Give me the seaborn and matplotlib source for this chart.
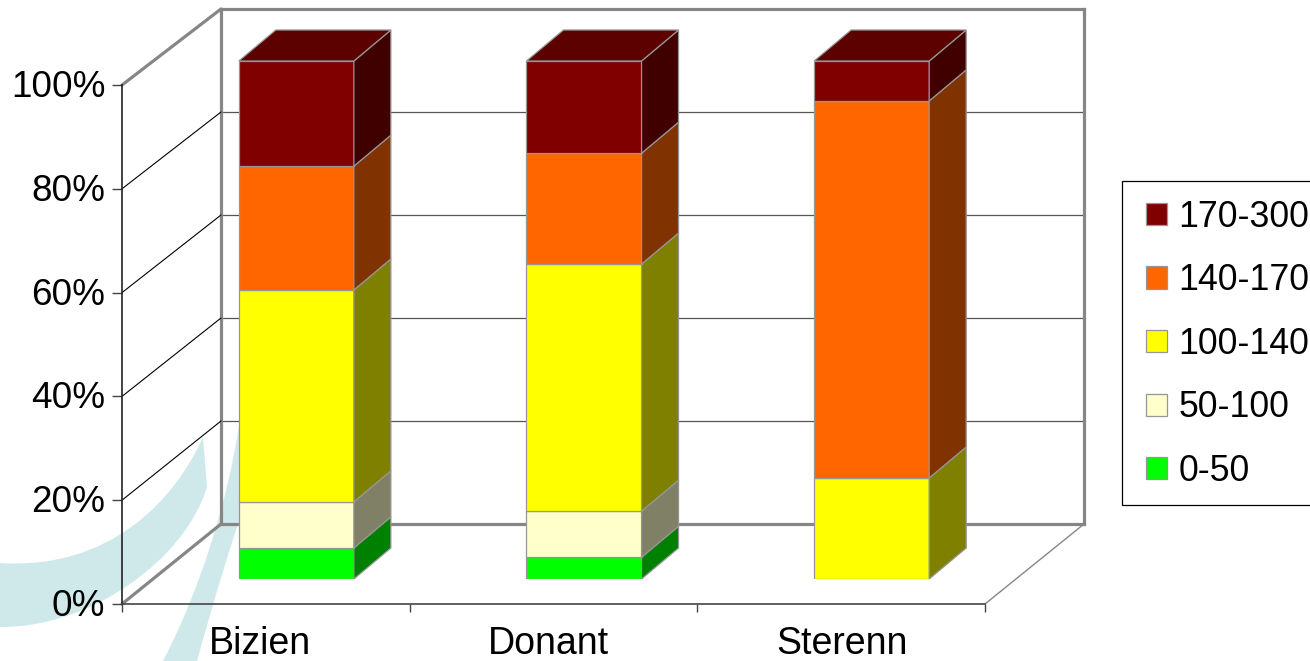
"""Stacked percent columns with an old spreadsheet 3D look."""

import matplotlib.pyplot as plt
import seaborn as sns
from matplotlib.patches import ConnectionPatch, Patch, PathPatch, Rectangle
from matplotlib.path import Path
from matplotlib.transforms import ScaledTranslation

W, H = 1310, 661

sites = ["Bizien", "Donant", "Sterenn"]
bands = ["0-50", "50-100", "100-140", "140-170", "170-300"]
band_0_50 = [6.0, 4.2, 0.0]
band_50_100 = [8.9, 8.9, 0.0]
band_100_140 = [40.9, 47.7, 19.5]
band_140_170 = [23.9, 21.4, 72.8]
band_170_300 = [20.3, 17.8, 7.7]
y_ticks = [0, 20, 40, 60, 80, 100]

front_colors = ["#00ff00", "#ffffcc", "#ffff00", "#ff6600", "#800000"]
side_colors = ["#008000", "#808066", "#808000", "#803300", "#400000"]
top_color = "#5c0000"
edge = "#969696"
wall = "#868686"
wash = "#cfe9eb"

sns.set_theme(style="white")
plt.rcParams["font.family"] = "Liberation Sans"


def px_axes(fig, left, top, right, bottom, z):
    ax = fig.add_axes([left / W, 1 - bottom / H, (right - left) / W, (bottom - top) / H])
    ax.set_zorder(z)
    ax.patch.set_visible(False)
    return ax


fig = plt.figure(figsize=(W / 100, H / 100), dpi=100)

# faint logo sitting behind the chart
bg = px_axes(fig, 0, 0, W, H, 0)
bg.set_xlim(0, W)
bg.set_ylim(H, 0)
bg.set_axis_off()
C4, L2 = Path.CURVE4, Path.LINETO
swoosh_a = Path(
    [(0, 563), (110, 570), (175, 500), (203, 437), (207, 487), (185, 560), (90, 628), (0, 627), (0, 563)],
    [Path.MOVETO, C4, C4, C4, L2, C4, C4, C4, Path.CLOSEPOLY],
)
swoosh_b = Path(
    [(163, 661), (200, 590), (228, 500), (239, 425), (246, 500), (222, 570), (197, 661), (163, 661)],
    [Path.MOVETO, C4, C4, C4, L2, Path.CURVE3, Path.CURVE3, Path.CLOSEPOLY],
)
bg.add_patch(PathPatch(swoosh_a, fc=wash, ec="none"))
bg.add_patch(PathPatch(swoosh_b, fc=wash, ec="none"))

# back wall
back = px_axes(fig, 221, 9, 1084, 524, 1)
back.set_xlim(-0.5, 2.5)
back.set_ylim(0, 100)
back.set_xticks([])
back.set_yticks(y_ticks)
back.tick_params(left=False, labelleft=False)
back.grid(axis="y", color="#555555", lw=0.9)
for s in back.spines.values():
    s.set_color(wall)
    s.set_linewidth(2.3)

# front plane carries the real axes
front = px_axes(fig, 122, 85, 985, 604, 2)
front.set_xlim(-0.5, 2.5)
front.set_ylim(0, 100)
front.set_yticks(y_ticks)
front.set_yticklabels([f"{t}%" for t in y_ticks], fontsize=26.6, color="black")
front.set_xticks([-0.5, 0.5, 1.5, 2.5])
front.set_xticklabels([])
front.set_xticks([-0.022, 0.981, 2.003], minor=True)
front.set_xticklabels(sites, minor=True, fontsize=27, color="black")
front.tick_params(axis="y", length=7, width=1, color="#444444", pad=5, left=True)
front.tick_params(axis="x", which="major", length=6, width=1, color="#444444", bottom=True)
front.tick_params(axis="x", which="minor", length=0, pad=16)
sns.despine(ax=front, top=True, right=True)
front.spines["left"].set_color("#222222")
front.spines["left"].set_linewidth(1.2)
front.spines["bottom"].set_color("#444444")
front.spines["bottom"].set_linewidth(1.2)
# percent labels sit a little above their ticks
for lab in front.get_yticklabels():
    lab.set_transform(lab.get_transform() + ScaledTranslation(0, 1.5 / 100, fig.dpi_scale_trans))

# side wall and floor edges between the two planes
for t in y_ticks:
    thick = t in (0, 100)
    fig.add_artist(
        ConnectionPatch(
            (-0.5, t), (-0.5, t), "data", "data", axesA=front, axesB=back,
            color=wall if thick else "black", lw=2.3 if thick else 0.8, zorder=1.5,
        )
    )
fig.add_artist(
    ConnectionPatch(
        (2.5, 0), (2.5, 0), "data", "data", axesA=front, axesB=back, color=wall, lw=1.0, zorder=1.5
    )
)

# columns
ax = px_axes(fig, 152.5, 61, 1015.5, 579, 3)
DX = 37 / (863 / 3)
DY = 31 / 5.18
HALF = 0.2
series = [band_0_50, band_50_100, band_100_140, band_140_170, band_170_300]
bottom = [0.0, 0.0, 0.0]
for vals, fc, sc in zip(series, front_colors, side_colors):
    shown = [(i, b, v) for i, (b, v) in enumerate(zip(bottom, vals)) if v > 0]
    sns.barplot(
        x=[sites[i] for i, _, _ in shown],
        y=[v for _, _, v in shown],
        bottom=[b for _, b, _ in shown],
        order=sites,
        color=fc,
        saturation=1,
        width=2 * HALF,
        edgecolor=edge,
        linewidth=0.9,
        ax=ax,
    )
    for i, b, v in shown:
        x = i + HALF
        ax.fill(
            [x, x + DX, x + DX, x],
            [b, b + DY, b + v + DY, b + v],
            fc=sc, ec=edge, lw=0.9, clip_on=False,
        )
    bottom = [b + v for b, v in zip(bottom, vals)]
for i, b in enumerate(bottom):
    ax.fill(
        [i - HALF, i + HALF, i + HALF + DX, i - HALF + DX],
        [b, b, b + DY, b + DY],
        fc=top_color, ec=edge, lw=0.9, clip_on=False,
    )
ax.set_xlim(-0.5, 2.5)
ax.set_ylim(0, 100)
ax.set_axis_off()

# legend box runs off the right edge, so its frame is drawn apart from the entries
fig.add_artist(
    Rectangle(
        (1122 / W, 1 - 505 / H), 200 / W, 324 / H, transform=fig.transFigure,
        fc="white", ec="black", lw=0.9, zorder=4,
    )
)
handles = [Patch(fc=c, ec=edge, lw=0.9, label=b) for c, b in zip(front_colors, bands)][::-1]
leg = fig.legend(
    handles=handles,
    loc="upper left",
    bbox_to_anchor=(1146 / W, 1 - 199.6 / H),
    borderaxespad=0,
    fontsize=25.7,
    frameon=False,
    handlelength=0.58,
    handleheight=0.58,
    handletextpad=0.33,
    labelspacing=0.8,
    borderpad=0,
    labelcolor="black",
)
leg.set_zorder(5)

fig.savefig("out.png", dpi=100)
